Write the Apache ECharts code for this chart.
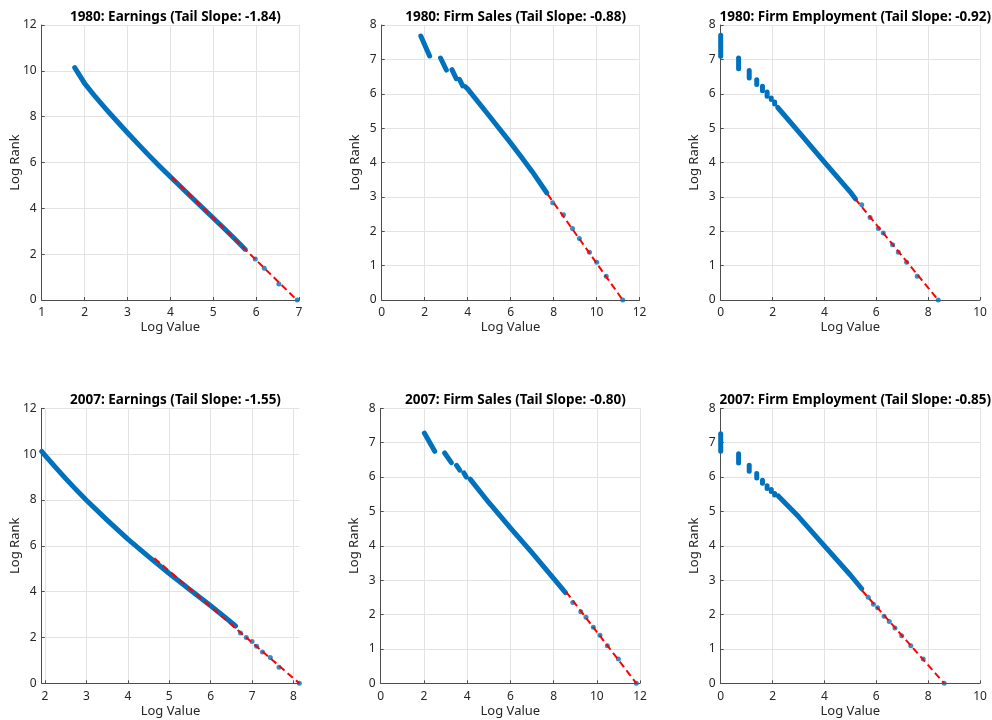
<!DOCTYPE html>
<html>
<head>
<meta charset="utf-8">
<script src="https://cdn.jsdelivr.net/npm/echarts@6/dist/echarts.min.js"></script>
<style>
html,body{margin:0;padding:0;background:#fff;}
#chart{width:992px;height:720px;}
</style>
</head>
<body>
<div id="chart"></div>
<script>
// ---------- data ----------
const panelTitles = [
  "1980: Earnings (Tail Slope: -1.84)",
  "1980: Firm Sales (Tail Slope: -0.88)",
  "1980: Firm Employment (Tail Slope: -0.92)",
  "2007: Earnings (Tail Slope: -1.55)",
  "2007: Firm Sales (Tail Slope: -0.80)",
  "2007: Firm Employment (Tail Slope: -0.85)"
];
const xName = "Log Value";
const yName = "Log Rank";

// 1980 earnings
const e80BodyX = [1.77, 2.0, 2.25, 2.5, 2.75, 3.0, 3.25, 3.5, 3.75, 4.0, 4.5, 5.0, 5.25, 5.5, 5.72];
const e80BodyY = [10.14, 9.45, 8.87, 8.33, 7.81, 7.30, 6.80, 6.31, 5.84, 5.38, 4.47, 3.58, 3.13, 2.67, 2.26];
const e80TailX = [5.75, 5.98, 6.19, 6.53, 6.96];
const e80TailY = [2.20, 1.79, 1.39, 0.70, 0];
const e80FitX = [4.03, 6.95];
const e80FitY = [5.36, 0];

// 1980 firm sales (null separates runs)
const s80BodyX = [1.82, 2.23, null, 2.74, 3.01, null, 3.27, 3.47, null, 3.62, 3.77, null, 3.88, 4.0, 5.0, 6.0, 6.5, 7.0, 7.68];
const s80BodyY = [7.68, 7.10, null, 7.04, 6.69, null, 6.70, 6.44, null, 6.42, 6.23, null, 6.21, 6.14, 5.36, 4.57, 4.16, 3.74, 3.12];
const s80TailX = [7.96, 8.46, 8.88, 9.20, 9.67, 10.01, 10.45, 11.22];
const s80TailY = [2.83, 2.48, 2.08, 1.79, 1.39, 1.10, 0.69, 0];
const s80FitX = [7.72, 11.22];
const s80FitY = [3.08, 0];

// 1980 firm employment
const m80BodyX = [0, 0, null, 0.69, 0.69, null, 1.10, 1.10, null, 1.39, 1.39, null, 1.61, 1.61, null, 1.79, 1.79, null, 1.95, 1.95, null, 2.08, 2.08, null, 2.2, 3.0, 4.0, 5.0, 5.2];
const m80BodyY = [7.09, 7.70, null, 6.73, 7.04, null, 6.46, 6.68, null, 6.27, 6.41, null, 6.09, 6.22, null, 5.93, 6.05, null, 5.83, 5.88, null, 5.70, 5.76, null, 5.60, 4.90, 4.01, 3.14, 2.94];
const m80TailX = [5.44, 5.76, 6.08, 6.27, 6.63, 6.85, 7.17, 7.58, 8.39];
const m80TailY = [2.77, 2.40, 2.08, 1.95, 1.61, 1.39, 1.10, 0.69, 0];
const m80FitX = [5.18, 8.39];
const m80FitY = [2.95, 0];

// 2007 earnings
const e07BodyX = [1.92, 2.0, 2.25, 2.5, 2.75, 3.0, 3.5, 4.0, 4.5, 5.0, 5.5, 6.0, 6.3, 6.6];
const e07BodyY = [10.12, 9.95, 9.43, 8.93, 8.45, 7.99, 7.12, 6.29, 5.53, 4.79, 4.08, 3.38, 2.95, 2.50];
const e07TailX = [6.72, 6.86, 7.0, 7.11, 7.25, 7.44, 7.65, 8.14];
const e07TailY = [2.20, 2.00, 1.82, 1.62, 1.37, 1.13, 0.70, 0];
const e07FitX = [4.64, 8.14];
const e07FitY = [5.46, 0];

// 2007 firm sales
const s07BodyX = [2.02, 2.50, null, 2.96, 3.27, null, 3.51, 3.66, null, 3.85, 3.96, null, 4.14, 5.0, 6.0, 7.0, 8.0, 8.55];
const s07BodyY = [7.28, 6.75, null, 6.70, 6.42, null, 6.34, 6.20, null, 6.12, 6.00, null, 5.94, 5.26, 4.52, 3.80, 3.05, 2.64];
const s07TailX = [8.89, 9.26, 9.50, 9.84, 10.15, 10.49, 11.0, 11.83];
const s07TailY = [2.35, 2.08, 1.92, 1.63, 1.40, 1.09, 0.71, 0];
const s07FitX = [8.58, 11.83];
const s07FitY = [2.66, 0];

// 2007 firm employment
const m07BodyX = [0, 0, null, 0.69, 0.69, null, 1.10, 1.10, null, 1.39, 1.39, null, 1.61, 1.61, null, 1.79, 1.79, null, 1.95, 1.95, null, 2.08, 2.08, null, 2.22, 3.0, 4.0, 5.0, 5.44];
const m07BodyY = [6.75, 7.26, null, 6.41, 6.68, null, 6.17, 6.34, null, 5.97, 6.10, null, 5.82, 5.91, null, 5.67, 5.75, null, 5.58, 5.64, null, 5.48, 5.52, null, 5.45, 4.85, 4.00, 3.15, 2.75];
const m07TailX = [5.69, 5.89, 6.05, 6.30, 6.50, 6.72, 6.98, 7.33, 7.81, 8.62];
const m07TailY = [2.50, 2.30, 2.20, 1.95, 1.80, 1.61, 1.38, 1.09, 0.71, 0];
const m07FitX = [5.45, 8.62];
const m07FitY = [2.70, 0];

// axis ranges and tick labels
const xMins = [1, 0, 0, 1.92, 0, 0];
const xMaxs = [7, 12, 10, 8.14, 12, 10];
const xTicks = [
  [1, 2, 3, 4, 5, 6, 7],
  [0, 2, 4, 6, 8, 10, 12],
  [0, 2, 4, 6, 8, 10],
  [2, 3, 4, 5, 6, 7, 8],
  [0, 2, 4, 6, 8, 10, 12],
  [0, 2, 4, 6, 8, 10]
];
const yMaxs = [12, 8, 8, 12, 8, 8];
const yTicks = [
  [0, 2, 4, 6, 8, 10, 12],
  [0, 1, 2, 3, 4, 5, 6, 7, 8],
  [0, 1, 2, 3, 4, 5, 6, 7, 8],
  [0, 2, 4, 6, 8, 10, 12],
  [0, 1, 2, 3, 4, 5, 6, 7, 8],
  [0, 1, 2, 3, 4, 5, 6, 7, 8]
];

// ---------- layout & style ----------
const panels = [
  {bx: e80BodyX, by: e80BodyY, tx: e80TailX, ty: e80TailY, fx: e80FitX, fy: e80FitY},
  {bx: s80BodyX, by: s80BodyY, tx: s80TailX, ty: s80TailY, fx: s80FitX, fy: s80FitY},
  {bx: m80BodyX, by: m80BodyY, tx: m80TailX, ty: m80TailY, fx: m80FitX, fy: m80FitY},
  {bx: e07BodyX, by: e07BodyY, tx: e07TailX, ty: e07TailY, fx: e07FitX, fy: e07FitY},
  {bx: s07BodyX, by: s07BodyY, tx: s07TailX, ty: s07TailY, fx: s07FitX, fy: s07FitY},
  {bx: m07BodyX, by: m07BodyY, tx: m07TailX, ty: m07TailY, fx: m07FitX, fy: m07FitY}
];
const gridBoxes = [
  {left: 41.7, top: 25, width: 257.3, height: 275},
  {left: 381.7, top: 25, width: 257.8, height: 275},
  {left: 720.7, top: 25, width: 259.3, height: 275},
  {left: 41.7, top: 408.3, width: 257.6, height: 275},
  {left: 380.7, top: 408.3, width: 259.3, height: 275},
  {left: 720.7, top: 408.3, width: 259.3, height: 275}
];
const FONT = "'Noto Sans', 'Open Sans', sans-serif";
const TXT = '#262626';
const BLUE = '#0072BD';
const RED = '#FF0000';
const GRIDC = '#e3e3e3';

function runs(xs, ys) {
  const out = [];
  let cur = [];
  for (let i = 0; i < xs.length; i++) {
    if (xs[i] === null || ys[i] === null) {
      if (cur.length) out.push(cur);
      cur = [];
    } else {
      cur.push([xs[i], ys[i]]);
    }
  }
  if (cur.length) out.push(cur);
  return out;
}
function pairs(xs, ys) { return xs.map((x, i) => [x, ys[i]]); }

const option = {
  animation: false,
  backgroundColor: '#ffffff',
  textStyle: {fontFamily: FONT},
  title: [],
  grid: [],
  xAxis: [],
  yAxis: [],
  series: []
};

panels.forEach((p, i) => {
  const g = gridBoxes[i];
  option.grid.push({left: g.left, top: g.top, width: g.width, height: g.height, containLabel: false});
  option.title.push({
    text: panelTitles[i],
    left: g.left + g.width / 2,
    top: g.top - 20,
    textAlign: 'center',
    textStyle: {fontFamily: FONT, fontSize: 13.5, fontWeight: 'bold', color: '#000'}
  });
  option.xAxis.push({
    type: 'value', gridIndex: i, min: xMins[i], max: xMaxs[i],
    name: xName, nameLocation: 'middle', nameGap: 21,
    nameTextStyle: {fontFamily: FONT, fontSize: 13, color: TXT},
    axisLine: {show: true, onZero: false, lineStyle: {color: '#4d4d4d', width: 1}},
    axisTick: {show: true, inside: true, length: 3, customValues: xTicks[i], lineStyle: {color: '#4d4d4d'}},
    axisLabel: {customValues: xTicks[i], fontFamily: FONT, fontSize: 12, color: TXT, margin: 7},
    splitLine: {show: true, lineStyle: {color: GRIDC, width: 1}}
  });
  option.yAxis.push({
    type: 'value', gridIndex: i, min: 0, max: yMaxs[i],
    name: yName, nameLocation: 'middle', nameGap: 20, nameMoveOverlap: false,
    nameTextStyle: {fontFamily: FONT, fontSize: 13, color: TXT},
    axisLine: {show: true, onZero: false, lineStyle: {color: '#4d4d4d', width: 1}},
    axisTick: {show: true, inside: true, length: 3, customValues: yTicks[i], lineStyle: {color: '#4d4d4d'}},
    axisLabel: {customValues: yTicks[i], fontFamily: FONT, fontSize: 12, color: TXT, margin: 5},
    splitLine: {show: true, lineStyle: {color: GRIDC, width: 1}}
  });
  runs(p.bx, p.by).forEach(seg => {
    option.series.push({
      type: 'line', xAxisIndex: i, yAxisIndex: i, data: seg,
      showSymbol: false, symbol: 'none', silent: true, z: 2,
      lineStyle: {color: BLUE, width: 5, cap: 'round', join: 'round'}
    });
  });
  option.series.push({
    type: 'scatter', xAxisIndex: i, yAxisIndex: i, data: pairs(p.tx, p.ty),
    symbol: 'circle', symbolSize: 5, silent: true, z: 2,
    itemStyle: {color: BLUE}
  });
  option.series.push({
    type: 'line', xAxisIndex: i, yAxisIndex: i, data: pairs(p.fx, p.fy),
    showSymbol: false, symbol: 'none', silent: true, z: 3,
    lineStyle: {color: RED, width: 2, type: [7, 4]}
  });
});

const chart = echarts.init(document.getElementById('chart'), null, {renderer: 'canvas'});
chart.setOption(option);
</script>
</body>
</html>
